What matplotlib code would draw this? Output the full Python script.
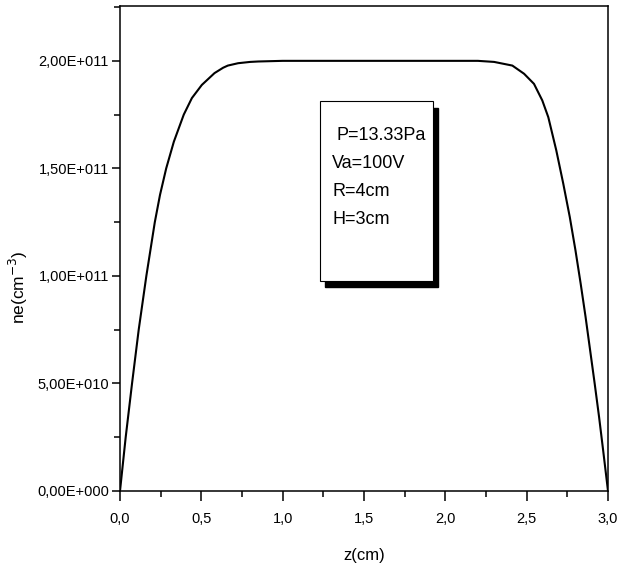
import matplotlib
matplotlib.use("Agg")
import matplotlib.pyplot as plt
from matplotlib.patches import Rectangle
from matplotlib.ticker import MultipleLocator, FixedLocator, FixedFormatter

plt.rcParams['font.family'] = ['Liberation Sans', 'DejaVu Sans']

# Electron density profile along the discharge axis
z_cm = [0.0, 0.035, 0.074, 0.115, 0.162, 0.214, 0.246, 0.284, 0.331, 0.392,
        0.442, 0.503, 0.581, 0.634, 0.663, 0.726, 0.80, 0.85, 1.0, 1.5,
        2.0, 2.2, 2.3, 2.412, 2.484, 2.545, 2.596, 2.633, 2.682, 2.725,
        2.765, 2.80, 2.832, 2.862, 2.89, 2.918, 2.945, 2.97, 3.0]
ne = [0.0, 2.5e10, 5.0e10, 7.5e10, 1.0e11, 1.25e11, 1.377e11, 1.5e11, 1.624e11, 1.75e11,
      1.827e11, 1.888e11, 1.943e11, 1.968e11, 1.978e11, 1.989e11, 1.995e11, 1.997e11, 2.0e11, 2.0e11,
      2.0e11, 2.0e11, 1.995e11, 1.978e11, 1.94e11, 1.893e11, 1.816e11, 1.738e11, 1.584e11, 1.429e11,
      1.274e11, 1.119e11, 0.964e11, 0.81e11, 0.655e11, 0.5e11, 0.345e11, 0.19e11, 0.0]

x_ticks = [0.0, 0.5, 1.0, 1.5, 2.0, 2.5, 3.0]
x_tick_labels = ["0,0", "0,5", "1,0", "1,5", "2,0", "2,5", "3,0"]
y_ticks = [0.0, 5.0e10, 1.0e11, 1.5e11, 2.0e11]
y_tick_labels = ["0,00E+000", "5,00E+010", "1,00E+011", "1,50E+011", "2,00E+011"]

params = ["P=13.33Pa", "Va=100V", "R=4cm", "H=3cm"]

W, H = 622, 566
fig = plt.figure(figsize=(W / 100, H / 100), dpi=100)


def fx(px):
    return px / W


def fy(py):
    return 1 - py / H


ax = fig.add_axes([fx(120), fy(491), fx(608) - fx(120), fy(6) - fy(491)])
ax.plot(z_cm, ne, color='black', lw=1.5)

ax.set_xlim(0, 3.0)
ax.set_ylim(0, 2.255e11)

ax.xaxis.set_major_locator(FixedLocator(x_ticks))
ax.xaxis.set_major_formatter(FixedFormatter(x_tick_labels))
ax.xaxis.set_minor_locator(MultipleLocator(0.25))
ax.yaxis.set_major_locator(FixedLocator(y_ticks))
ax.yaxis.set_major_formatter(FixedFormatter(y_tick_labels))
ax.yaxis.set_minor_locator(MultipleLocator(2.5e10))

for s in ax.spines.values():
    s.set_linewidth(1.1)
ax.tick_params(which='major', direction='out', width=1.1, labelsize=10.5, colors='black')
ax.tick_params(axis='x', which='major', length=7, pad=8)
ax.tick_params(axis='y', which='major', length=6, pad=2)
ax.tick_params(which='minor', direction='out', width=1.1, length=4)

ax.set_xlabel("z(cm)", fontsize=12, labelpad=16)
ax.set_ylabel("ne(cm$^{-3}$)", fontsize=12.5)
ax.yaxis.set_label_coords((fx(30) - fx(120)) / (fx(608) - fx(120)), 0.42)

# Parameter box with drop shadow
fig.patches.append(Rectangle((fx(325), fy(287)), fx(438) - fx(325), fy(108) - fy(287),
                             transform=fig.transFigure, facecolor='black',
                             edgecolor='black', zorder=5))
fig.patches.append(Rectangle((fx(320), fy(281)), fx(433) - fx(320), fy(101) - fy(281),
                             transform=fig.transFigure, facecolor='white',
                             edgecolor='black', lw=0.8, zorder=6))

text_x = [337, 332, 332, 332]
text_y = [135, 163, 192, 219]
for s, tx, ty in zip(params, text_x, text_y):
    fig.text(fx(tx), fy(ty), s, fontsize=13, ha='left', va='center', zorder=7)

fig.savefig("out.png", dpi=100)
